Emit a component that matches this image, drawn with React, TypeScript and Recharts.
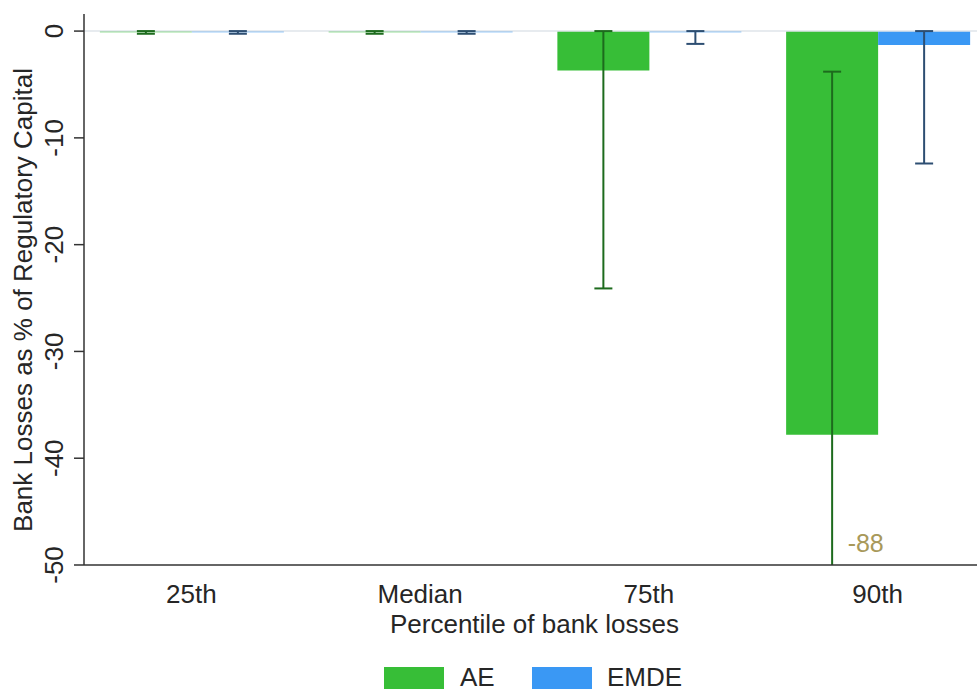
import React from 'react';
import {
  BarChart,
  Bar,
  XAxis,
  YAxis,
  ErrorBar,
  ReferenceLine,
  ReferenceDot,
  Legend,
} from 'recharts';

// Percentile groups on the x axis
const categories = ['25th', 'Median', '75th', '90th'];

// Advanced economies: bar value and error-bar range
const aeValues = [-0.1, -0.1, -3.7, -37.8];
const aeLow = [-0.25, -0.25, -24.1, -88];
const aeHigh = [0, 0, 0, -3.8];

// Emerging market and developing economies
const emdeValues = [-0.1, -0.1, -0.1, -1.3];
const emdeLow = [-0.25, -0.25, -1.2, -12.4];
const emdeHigh = [0, 0, 0, 0];

const yTicks = [0, -10, -20, -30, -40, -50];
const Y_MIN = -50;
const Y_MAX = 1.6;

const CHART_W = 977;
const CHART_H = 689;
const MARGIN = { top: 14, right: 0, bottom: 0, left: 0 };
const Y_AXIS_W = 84;
const X_AXIS_H = 124;

const FONT = '"Liberation Sans", Arial, Helvetica, sans-serif';
const TEXT = '#262626';
const AXIS = '#333333';
const AE_COLOR = '#37be37';
const EMDE_COLOR = '#3a98f4';
const AE_ERR = '#1d6b1d';
const EMDE_ERR = '#2d4e72';
const CLIP_LABEL = '#a8995a';

const data = categories.map((cat, i) => ({
  cat,
  AE: aeValues[i],
  EMDE: emdeValues[i],
  aeErr: [aeValues[i] - aeLow[i], aeHigh[i] - aeValues[i]],
  emdeErr: [emdeValues[i] - emdeLow[i], emdeHigh[i] - emdeValues[i]],
}));

// error bars running past the bottom of the axis get their end value printed
const clippedIndex = aeLow.findIndex((v) => v < Y_MIN);

// plot rectangle, used to cut error bars off at the axis
const plotX = MARGIN.left + Y_AXIS_W;
const plotY = MARGIN.top;
const plotW = CHART_W - plotX - MARGIN.right;
const plotH = CHART_H - MARGIN.top - MARGIN.bottom - X_AXIS_H;

const YTick = (props: any) => {
  const { x, y, payload } = props;
  return (
    <text
      transform={`translate(${x - 11},${y}) rotate(-90)`}
      textAnchor="middle"
      fill={TEXT}
      fontSize={26}
      fontFamily={FONT}
    >
      {payload.value}
    </text>
  );
};

const YTitle = () => (
  <text
    transform="translate(32,300) rotate(-90)"
    textAnchor="middle"
    fill={TEXT}
    fontSize={26}
    fontFamily={FONT}
  >
    Bank Losses as % of Regulatory Capital
  </text>
);

const XTitle = (props: any) => {
  const vb = props.viewBox || { x: 84, y: 565, width: 893 };
  return (
    <text
      x={vb.x + vb.width / 2 + 4}
      y={vb.y + 68}
      textAnchor="middle"
      fill={TEXT}
      fontSize={26}
      fontFamily={FONT}
    >
      Percentile of bank losses
    </text>
  );
};

const ClipLabel = (props: any) => {
  const vb = props.viewBox || { x: 0, y: 0, width: 0, height: 0 };
  const cx = vb.x + vb.width / 2;
  const cy = vb.y + vb.height / 2;
  return (
    <text
      x={cx - 30}
      y={cy - 13}
      textAnchor="start"
      fill={CLIP_LABEL}
      fontSize={25}
      fontFamily={FONT}
    >
      {clippedIndex >= 0 ? aeLow[clippedIndex] : ''}
    </text>
  );
};

const LegendContent = (props: any) => {
  const payload = props.payload || [];
  const items = [
    { rectX: 384, textX: 460 },
    { rectX: 532, textX: 607 },
  ];
  return (
    <svg width={CHART_W} height={30} style={{ display: 'block' }}>
      {payload.slice(0, 2).map((p: any, i: number) => (
        <g key={p.value}>
          <rect x={items[i].rectX} y={7} width={60} height={22} fill={p.color} />
          <text
            x={items[i].textX}
            y={25.5}
            fill={TEXT}
            fontSize={26}
            fontFamily={FONT}
          >
            {p.value}
          </text>
        </g>
      ))}
    </svg>
  );
};

export default function App() {
  return (
    <div style={{ position: 'absolute', left: 0, top: 0, background: '#ffffff' }}>
      <BarChart
        width={CHART_W}
        height={CHART_H}
        data={data}
        margin={MARGIN}
        barCategoryGap="10%"
        barGap={0}
        style={{ fontFamily: FONT }}
      >
        <defs>
          <clipPath id="plot-area-clip">
            <rect x={plotX} y={plotY} width={plotW} height={plotH} />
          </clipPath>
        </defs>
        <XAxis
          dataKey="cat"
          height={X_AXIS_H}
          padding={{ left: -7, right: -15 }}
          axisLine={{ stroke: AXIS, strokeWidth: 1.5 }}
          tickLine={false}
          tickSize={0}
          tickMargin={20}
          tick={{ fill: TEXT, fontSize: 26, fontFamily: FONT }}
          label={{ content: XTitle }}
        />
        <YAxis
          width={Y_AXIS_W}
          type="number"
          domain={[Y_MIN, Y_MAX]}
          allowDataOverflow
          ticks={yTicks}
          interval={0}
          axisLine={{ stroke: AXIS, strokeWidth: 1.5 }}
          tickLine={{ stroke: AXIS, strokeWidth: 1.5 }}
          tickSize={10}
          tickMargin={0}
          tick={<YTick />}
          label={{ content: YTitle }}
        />
        <ReferenceLine y={0} stroke="#dfe5ea" strokeWidth={1.5} />
        <Bar dataKey="AE" fill={AE_COLOR} isAnimationActive={false}>
          <ErrorBar
            dataKey="aeErr"
            direction="y"
            width={9}
            stroke={AE_ERR}
            strokeWidth={2}
            clipPath="url(#plot-area-clip)"
            isAnimationActive={false}
          />
        </Bar>
        <Bar dataKey="EMDE" fill={EMDE_COLOR} isAnimationActive={false}>
          <ErrorBar
            dataKey="emdeErr"
            direction="y"
            width={9}
            stroke={EMDE_ERR}
            strokeWidth={2}
            clipPath="url(#plot-area-clip)"
            isAnimationActive={false}
          />
        </Bar>
        {clippedIndex >= 0 && (
          <ReferenceDot
            x={categories[clippedIndex]}
            y={Y_MIN}
            r={0}
            fill="none"
            stroke="none"
            label={{ content: ClipLabel }}
          />
        )}
        <Legend
          layout="horizontal"
          verticalAlign="middle"
          align="center"
          content={<LegendContent />}
          wrapperStyle={{ position: 'absolute', top: 660, left: 0, width: CHART_W, height: 30 }}
        />
      </BarChart>
    </div>
  );
}
